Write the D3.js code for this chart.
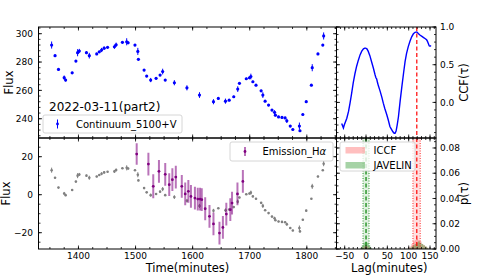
<!DOCTYPE html>
<meta charset="utf-8">
<head>
<style>
    body {margin: 0; background: #fff;}
    text {font-family: "DejaVu Sans", sans-serif; fill: #000;}
</style>
</head>
<body>
<div class="chart"></div>
<script src="https://d3js.org/d3.v7.min.js"></script>
<script>
// continuum light curve (top left), also drawn grey in the bottom panel
var tCont = [1353, 1359, 1365, 1375, 1377.5, 1389, 1395.5, 1398.5, 1401.5, 1414, 1419, 1432, 1436.5, 1440.5, 1445, 1451,
    1463, 1466, 1477, 1484.5, 1487, 1499, 1504, 1505, 1515, 1519.5, 1526.5, 1536, 1543, 1547.5, 1552, 1568, 1590, 1612,
    1636.5, 1645, 1657.5, 1664, 1672, 1679, 1682, 1694, 1699.5, 1702, 1705.5, 1711, 1720, 1723, 1727, 1733, 1739, 1743.5,
    1745, 1750.5, 1756.5, 1762, 1765, 1771, 1775.5, 1787, 1788, 1793, 1799, 1808, 1809.5, 1819.5, 1828, 1829.5];
var fCont = [292, 284.5, 274.8, 269, 267.3, 272.4, 280.7, 286.6, 287.8, 286.6, 284.5, 285.7, 287.2, 288.5, 289.8, 290.4,
    290.8, 292.2, 293.9, 294.3, 293.6, 292, 287.5, 281.9, 274.3, 270.1, 267.3, 268.5, 270.8, 273.3, 267.3, 265.4, 261.8, 256.7,
    252, 254.3, 252.4, 253.1, 255.5, 260.9, 265, 268.2, 268.9, 269.8, 266.1, 263.7, 259.7, 256.7, 252.4, 249.6, 246.1, 244.5,
    242.5, 241.3, 240.9, 240.6, 238.5, 234.8, 232.4, 234.8, 231.5, 243, 252, 263.7, 276, 285.7, 292, 298.4];
var eCont = [2.5, 0.8, 0.8, 1.5, 1.0, 0.8, 0.8, 2.5, 1.5, 1.0, 2.0, 0.8, 0.8, 1.5, 1.2, 0.8,
    1.5, 1.5, 0.8, 2.5, 1.0, 0.8, 2.5, 0.8, 0.8, 0.8, 1.5, 0.8, 0.8, 2.0, 0.8, 1.8, 1.8, 2.0,
    1.8, 0.8, 1.8, 0.8, 0.8, 2.0, 0.8, 0.8, 1.0, 2.0, 0.8, 0.8, 0.8, 2.0, 0.8, 0.8, 0.8, 1.5,
    0.8, 0.8, 0.8, 0.8, 1.5, 0.8, 0.8, 2.5, 0.8, 0.8, 0.8, 0.8, 2.5, 0.8, 0.8, 2.5];

// H-alpha emission light curve (bottom left)
var tHa = [1502, 1522.5, 1531, 1541, 1552, 1559, 1564.5, 1570.5, 1581, 1587, 1592.5, 1597, 1604, 1609, 1613, 1616,
    1622, 1629.5, 1636.5, 1647, 1653, 1659, 1666, 1669, 1678.5, 1688];
var fHa = [21.4, 16.1, 4.4, 12.3, 10.7, 5.3, 7.9, 9.3, 4.4, 0.4, 1.8, -0.9, -1.8, -2.3, -2.3, -2.6,
    -7.4, -11.4, -15.4, -20.2, -17.2, -10.2, -7.9, -4.4, 0.4, 7.0];
var eHa = [5.7, 6.0, 6.3, 6.0, 6.0, 6.0, 6.0, 6.0, 6.0, 6.0, 6.0, 6.0, 6.0, 6.0, 6.0, 6.0,
    6.0, 6.0, 6.0, 6.0, 6.0, 6.0, 6.0, 6.0, 6.0, 6.0];

// cross correlation (top right)
var lagCCF = [-57, -55, -53, -51, -49, -45, -41, -37.5, -34, -30, -26, -22, -18, -14, -10, -6, -3, -1, 2, 5, 9, 13, 17,
    21, 23, 25, 27, 29, 33, 37, 40.5, 44, 48.5, 52, 56, 58, 60, 63, 66, 68, 70.5, 73, 76, 80, 84, 88, 91.5, 95, 99, 103,
    107, 111, 115, 119, 123, 127, 131, 135, 139, 142, 144, 146, 148, 150, 152.5];
var ccf = [-0.28, -0.31, -0.34, -0.30, -0.27, -0.21, -0.12, -0.01, 0.11, 0.26, 0.38, 0.48, 0.56, 0.63, 0.68, 0.71, 0.72,
    0.72, 0.71, 0.68, 0.62, 0.54, 0.46, 0.37, 0.33, 0.31, 0.26, 0.22, 0.15, 0.07, -0.01, -0.08, -0.16, -0.23, -0.32, -0.34,
    -0.36, -0.39, -0.41, -0.41, -0.38, -0.30, -0.19, 0.02, 0.21, 0.39, 0.54, 0.65, 0.74, 0.81, 0.87, 0.91, 0.93, 0.935,
    0.91, 0.89, 0.875, 0.86, 0.845, 0.83, 0.81, 0.78, 0.75, 0.745, 0.755];

// lag distributions (bottom right)
var histLags = [-12, -8, -4, 0, 4, 8, 12, 100, 104, 108, 112, 116, 120, 124, 128, 132, 136, 140, 144];
var iccfHist = [0, 0.001, 0.002, 0.003, 0.002, 0.001, 0, 0.001, 0.002, 0.004, 0.006, 0.007, 0.008, 0.007, 0.006, 0.004, 0.003, 0.002, 0.001];
var javHist = [0.001, 0.003, 0.005, 0.006, 0.005, 0.003, 0.001, 0, 0.001, 0.002, 0.003, 0.004, 0.005, 0.006, 0.005, 0.004, 0.003, 0.002, 0.001];
var iccfLag = [110, 119, 127];   // low, peak, high
var javLag = [-7, 0, 7];

// panel edges
var L = 38.5, M = 336.5, R = 436, T = 27, C = 138, B = 249;

var x = d3.scaleLinear().domain([1330, 1852]).range([L, M]);
var yTop = d3.scaleLinear().domain([226.4, 304.73]).range([C, T]);
var yBot = d3.scaleLinear().domain([-28.58, 29.84]).range([B, C]);
var yGrey = d3.scaleLinear().domain([214.1, 323.8]).range([B, C]);
var xLag = d3.scaleLinear().domain([-69.2, 164]).range([M, R]);
var yCCF = d3.scaleLinear().domain([-0.472, 1.0]).range([C, T]);
var yP = d3.scaleLinear().domain([0, 0.0879]).range([B, C]);

var svg = d3.select(".chart").append("svg")
    .attr("width", 485)
    .attr("height", 277);
svg.append("rect").attr("width", 485).attr("height", 277).attr("fill", "#fff");

var defs = svg.append("defs");
function clip(id, x0, y0, x1, y1) {
    defs.append("clipPath").attr("id", id).append("rect")
        .attr("x", x0).attr("y", y0).attr("width", x1 - x0).attr("height", y1 - y0);
    return "url(#" + id + ")";
}

function fmtMinus(s) { return s.replace("-", "\u2212"); }

function range(a, b, s) {
    var out = [];
    for (var v = a; v <= b + s * 1e-6; v += s) out.push(+v.toFixed(6));
    return out;
}

function drawTicks(xs, ys, box, xMaj, xMin, yMaj, yMin) {
    var g = svg.append("g").attr("stroke", "#000").attr("stroke-width", 0.8);
    function xt(vals, len) {
        vals.forEach(function (v) {
            var px = xs(v);
            if (px < box[0] - 0.1 || px > box[2] + 0.1) return;
            g.append("line").attr("x1", px).attr("x2", px).attr("y1", box[3]).attr("y2", box[3] - len);
            g.append("line").attr("x1", px).attr("x2", px).attr("y1", box[1]).attr("y2", box[1] + len);
        });
    }
    function yt(vals, len) {
        vals.forEach(function (v) {
            var py = ys(v);
            if (py < box[1] - 0.1 || py > box[3] + 0.1) return;
            g.append("line").attr("y1", py).attr("y2", py).attr("x1", box[0]).attr("x2", box[0] + len);
            g.append("line").attr("y1", py).attr("y2", py).attr("x1", box[2]).attr("x2", box[2] - len);
        });
    }
    xt(xMaj, 3.5); xt(xMin, 2); yt(yMaj, 3.5); yt(yMin, 2);
}

function frame(box) {
    svg.append("rect").attr("x", box[0]).attr("y", box[1])
        .attr("width", box[2] - box[0]).attr("height", box[3] - box[1])
        .attr("fill", "none").attr("stroke", "#000").attr("stroke-width", 1);
}

function errorbars(g, ts, vs, es, xs, ys, col, lw, op, r) {
    g.selectAll(null).data(ts).enter().append("line")
        .attr("x1", function (d) { return xs(d); })
        .attr("x2", function (d) { return xs(d); })
        .attr("y1", function (d, i) { return ys(vs[i] - es[i]); })
        .attr("y2", function (d, i) { return ys(vs[i] + es[i]); })
        .attr("stroke", col).attr("stroke-width", lw).attr("stroke-opacity", op);
    g.selectAll(null).data(ts).enter().append("circle")
        .attr("cx", function (d) { return xs(d); })
        .attr("cy", function (d, i) { return ys(vs[i]); })
        .attr("r", r).attr("fill", col);
}

// ---- top left: continuum
var gTL = svg.append("g").attr("clip-path", clip("cTL", L, T, M, C));
errorbars(gTL, tCont, fCont, eCont, x, yTop, "#0000ff", 1, 1, 1.6);

// ---- bottom left: grey continuum + H alpha
var gBL = svg.append("g").attr("clip-path", clip("cBL", L, C, M, B));
errorbars(gBL, tCont, fCont, eCont, x, yGrey, "#808080", 1, 1, 1.3);
errorbars(gBL, tHa, fHa, eHa, x, yBot, "#800080", 2, 0.55, 1.4);

// ---- top right: ccf
var gTR = svg.append("g").attr("clip-path", clip("cTR", M, T, R, C));
gTR.append("path").datum(lagCCF)
    .attr("d", d3.line().x(function (d) { return xLag(d); }).y(function (d, i) { return yCCF(ccf[i]); }))
    .attr("fill", "none").attr("stroke", "#0000ff").attr("stroke-width", 1.4);
gTR.append("line").attr("x1", xLag(iccfLag[1])).attr("x2", xLag(iccfLag[1])).attr("y1", T).attr("y2", C)
    .attr("stroke", "#ff0000").attr("stroke-width", 1.2).attr("stroke-dasharray", "4,2.5");

// ---- bottom right: lag distributions
var gBR = svg.append("g").attr("clip-path", clip("cBR", M, C, R, B));
var bw = xLag(4) - xLag(0);
gBR.append("rect").attr("x", xLag(iccfLag[0])).attr("width", xLag(iccfLag[2]) - xLag(iccfLag[0]))
    .attr("y", C).attr("height", B - C).attr("fill", "#ff0000").attr("fill-opacity", 0.12);
gBR.append("rect").attr("x", xLag(javLag[0])).attr("width", xLag(javLag[2]) - xLag(javLag[0]))
    .attr("y", C).attr("height", B - C).attr("fill", "#008000").attr("fill-opacity", 0.12);
gBR.selectAll(".hi").data(histLags).enter().append("rect")
    .attr("x", function (d) { return xLag(d) - bw / 2; }).attr("width", bw)
    .attr("y", function (d, i) { return yP(iccfHist[i]); })
    .attr("height", function (d, i) { return B - yP(iccfHist[i]); })
    .attr("fill", "#ff0000").attr("fill-opacity", 0.25);
gBR.selectAll(".hj").data(histLags).enter().append("rect")
    .attr("x", function (d) { return xLag(d) - bw / 2; }).attr("width", bw)
    .attr("y", function (d, i) { return yP(javHist[i]); })
    .attr("height", function (d, i) { return B - yP(javHist[i]); })
    .attr("fill", "#008000").attr("fill-opacity", 0.35);
[[iccfLag, "#ff0000"], [javLag, "#008000"]].forEach(function (p) {
    p[0].forEach(function (v, k) {
        gBR.append("line").attr("x1", xLag(v)).attr("x2", xLag(v)).attr("y1", C).attr("y2", B)
            .attr("stroke", p[1]).attr("stroke-width", k == 1 ? 1.2 : 0.8)
            .attr("stroke-dasharray", k == 1 ? "4,2.5" : "1,1.5");
    });
});

// ---- frames and ticks
var boxTL = [L, T, M, C], boxBL = [L, C, M, B], boxTR = [M, T, R, C], boxBR = [M, C, R, B];
drawTicks(x, yTop, boxTL, range(1400, 1800, 100), range(1325, 1850, 25), range(240, 300, 20), range(228, 304, 4));
drawTicks(x, yBot, boxBL, range(1400, 1800, 100), range(1325, 1850, 25), range(-20, 20, 20), range(-25, 25, 5));
drawTicks(xLag, yCCF, boxTR, range(-50, 150, 50), range(-60, 160, 10), range(0, 1, 0.5), range(-0.4, 1, 0.1));
drawTicks(xLag, yP, boxBR, range(-50, 150, 50), range(-60, 160, 10), range(0, 0.08, 0.02), range(0, 0.085, 0.005));
[boxTL, boxBL, boxTR, boxBR].forEach(frame);

// ---- tick labels
var lab = svg.append("g").attr("font-size", "9px");
range(1400, 1800, 100).forEach(function (v) {
    lab.append("text").attr("x", x(v)).attr("y", 258.5).attr("text-anchor", "middle").text(v);
});
range(-50, 150, 50).forEach(function (v) {
    lab.append("text").attr("x", xLag(v)).attr("y", 258.5).attr("text-anchor", "middle").text(fmtMinus(String(v)));
});
range(240, 300, 20).forEach(function (v) {
    lab.append("text").attr("x", 33).attr("y", yTop(v)).attr("dy", "0.35em").attr("text-anchor", "end").text(v);
});
range(-20, 20, 20).forEach(function (v) {
    lab.append("text").attr("x", 33).attr("y", yBot(v)).attr("dy", "0.35em").attr("text-anchor", "end").text(fmtMinus(String(v)));
});
range(0, 1, 0.5).forEach(function (v) {
    lab.append("text").attr("x", 440).attr("y", yCCF(v)).attr("dy", "0.35em").text(v.toFixed(1));
});
range(0, 0.08, 0.02).forEach(function (v) {
    lab.append("text").attr("x", 440).attr("y", yP(v)).attr("dy", "0.35em").text(v.toFixed(2));
});

// ---- axis titles
var ttl = svg.append("g").attr("font-size", "11.5px");
ttl.append("text").attr("transform", "translate(13," + (T + C) / 2 + ") rotate(-90)").attr("text-anchor", "middle").text("Flux");
ttl.append("text").attr("transform", "translate(10," + (C + B) / 2 + ") rotate(-90)").attr("text-anchor", "middle").text("Flux");
ttl.append("text").attr("x", (L + M) / 2).attr("y", 271.5).attr("text-anchor", "middle").text("Time(minutes)");
ttl.append("text").attr("x", (M + R) / 2 + 3).attr("y", 271.5).attr("text-anchor", "middle").text("Lag(minutes)");
ttl.append("text").attr("transform", "translate(468," + (T + C) / 2 + ") rotate(-90)").attr("text-anchor", "middle").text("CCF(\u03c4)");
ttl.append("text").attr("transform", "translate(468," + (C + B) / 2 + ") rotate(-90)").attr("text-anchor", "middle").text("p(\u03c4)");
svg.append("text").attr("x", 49).attr("y", 110.5).attr("font-size", "12px").text("2022-03-11(part2)");

// ---- legends
function legendBox(x0, y0, x1, y1) {
    svg.append("rect").attr("x", x0).attr("y", y0).attr("width", x1 - x0).attr("height", y1 - y0)
        .attr("rx", 2).attr("fill", "#fff").attr("fill-opacity", 0.8).attr("stroke", "#cccccc").attr("stroke-width", 0.8);
}
function legendErr(cx, cy, col, lw, op) {
    svg.append("line").attr("x1", cx).attr("x2", cx).attr("y1", cy - 4.5).attr("y2", cy + 4.5)
        .attr("stroke", col).attr("stroke-width", lw).attr("stroke-opacity", op);
    svg.append("circle").attr("cx", cx).attr("cy", cy).attr("r", 1.4).attr("fill", col);
}
legendBox(43, 115, 182, 133);
legendErr(57.5, 124, "#0000ff", 1, 1);
svg.append("text").attr("x", 76).attr("y", 124).attr("dy", "0.35em").attr("font-size", "10px").text("Continuum_5100+V");

legendBox(230, 142, 333, 161);
legendErr(245, 151.5, "#800080", 2, 0.55);
var em = svg.append("text").attr("x", 262.5).attr("y", 151.5).attr("dy", "0.35em").attr("font-size", "10px");
em.append("tspan").text("Emission_H");
em.append("tspan").attr("font-style", "italic").text("\u03b1");

legendBox(340, 142, 415, 171);
svg.append("rect").attr("x", 345.5).attr("y", 147).attr("width", 19.5).attr("height", 6.5)
    .attr("fill", "#ff0000").attr("fill-opacity", 0.25);
svg.append("rect").attr("x", 345.5).attr("y", 162).attr("width", 19.5).attr("height", 6.5)
    .attr("fill", "#008000").attr("fill-opacity", 0.35);
svg.append("text").attr("x", 373.5).attr("y", 150.5).attr("dy", "0.35em").attr("font-size", "10px").text("ICCF");
svg.append("text").attr("x", 373.5).attr("y", 165.5).attr("dy", "0.35em").attr("font-size", "10px").text("JAVELIN");
</script>
</body>
